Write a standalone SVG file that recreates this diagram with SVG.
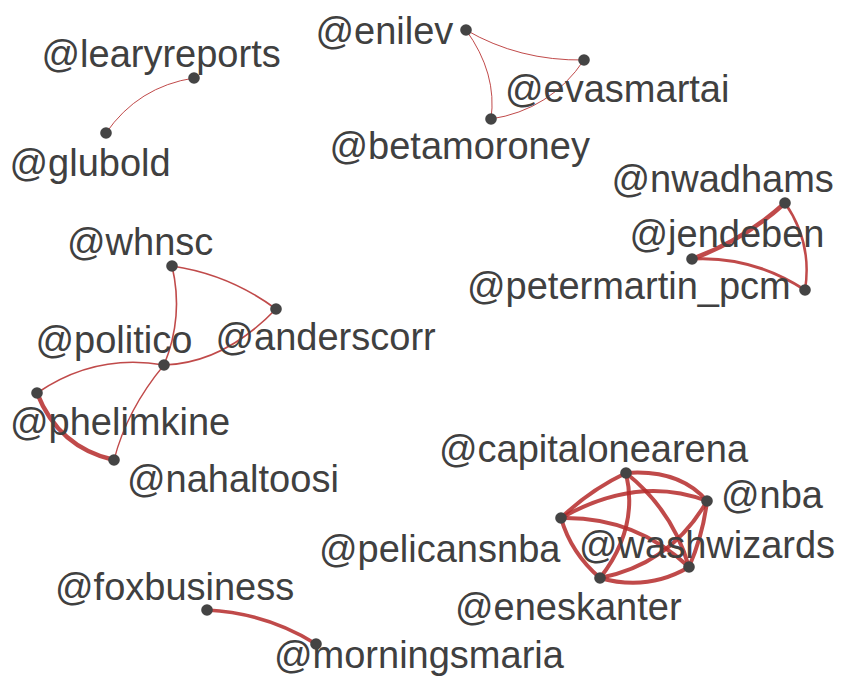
<svg xmlns="http://www.w3.org/2000/svg" width="844" height="676" viewBox="0 0 844 676">
<style>
.e{fill:none;stroke:#b52a2a;stroke-opacity:0.85;stroke-linecap:round}
.t{font-family:"Liberation Sans",Arial,sans-serif;font-size:38px;fill:#404040}
.n{fill:#444444}
</style>
<rect width="844" height="676" fill="#ffffff"/>
<g id="connectors">
<path class="e" stroke-width="1" d="M106,133 Q138,86.5 194,78"/>
<path class="e" stroke-width="1" d="M466,30 Q519,61 584,60"/>
<path class="e" stroke-width="1" d="M466,30 Q497.5,73.5 491,119"/>
<path class="e" stroke-width="1" d="M584,60 Q550.5,110 491,119"/>
<path class="e" stroke-width="4.5" d="M785,203 Q744,240 692,259"/>
<path class="e" stroke-width="3" d="M692,259 Q751.5,255.5 805,290"/>
<path class="e" stroke-width="2.5" d="M785,203 Q812.6,242.5 805,290"/>
<path class="e" stroke-width="1.6" d="M172,266 Q229.4,274.5 276,309"/>
<path class="e" stroke-width="1.6" d="M172,266 Q184,316.5 164,365"/>
<path class="e" stroke-width="1.6" d="M276,309 Q224,363 164,365"/>
<path class="e" stroke-width="1.6" d="M164,365 Q95.5,353 37,393"/>
<path class="e" stroke-width="1.3" d="M164,365 Q127,409.5 114,460"/>
<path class="e" stroke-width="4.5" d="M37,393 Q58.5,447.5 114,460"/>
<path class="e" stroke-width="3.5" d="M207,610 Q266.5,613 316,644"/>
<path class="e" stroke-width="4" d="M626,473 Q679.5,469 707,501"/>
<path class="e" stroke-width="4" d="M626,473 Q590,490 561,518"/>
<path class="e" stroke-width="4" d="M626,473 Q672.5,510 689,567"/>
<path class="e" stroke-width="4" d="M626,473 Q639,528.5 600,578"/>
<path class="e" stroke-width="4" d="M561,518 Q638,474.5 707,501"/>
<path class="e" stroke-width="4" d="M707,501 Q703,535 689,567"/>
<path class="e" stroke-width="4" d="M707,501 Q671,564 600,578"/>
<path class="e" stroke-width="4" d="M561,518 Q635,516.3 689,567"/>
<path class="e" stroke-width="4" d="M561,518 Q571,553 600,578"/>
<path class="e" stroke-width="4" d="M600,578 Q647.5,591.5 689,567"/>
</g>
<g id="labels">
<text class="t" x="41.5" y="67">@learyreports</text>
<text class="t" x="9.5" y="176">@glubold</text>
<text class="t" x="315.5" y="43.5">@enilev</text>
<text class="t" x="505" y="102">@evasmartai</text>
<text class="t" x="329.5" y="159">@betamoroney</text>
<text class="t" x="611.5" y="192">@nwadhams</text>
<text class="t" x="629.5" y="247">@jendeben</text>
<text class="t" x="467" y="299">@petermartin_pcm</text>
<text class="t" x="67" y="255">@whnsc</text>
<text class="t" x="215.5" y="350">@anderscorr</text>
<text class="t" x="35.5" y="353">@politico</text>
<text class="t" x="10" y="435">@phelimkine</text>
<text class="t" x="127" y="492">@nahaltoosi</text>
<text class="t" x="439" y="462">@capitalonearena</text>
<text class="t" x="721" y="508">@nba</text>
<text class="t" x="319" y="562">@pelicansnba</text>
<text class="t" x="579" y="558">@washwizards</text>
<text class="t" x="455" y="620">@eneskanter</text>
<text class="t" x="55" y="600">@foxbusiness</text>
<text class="t" x="274" y="668">@morningsmaria</text>
</g>
<g id="learyreports"><circle class="n" cx="194" cy="78" r="5.8"/></g>
<g id="glubold"><circle class="n" cx="106" cy="133" r="5.8"/></g>
<g id="enilev"><circle class="n" cx="466" cy="30" r="5.8"/></g>
<g id="evasmartai"><circle class="n" cx="584" cy="60" r="5.8"/></g>
<g id="betamoroney"><circle class="n" cx="491" cy="119" r="5.8"/></g>
<g id="nwadhams"><circle class="n" cx="785" cy="203" r="5.8"/></g>
<g id="jendeben"><circle class="n" cx="692" cy="259" r="5.8"/></g>
<g id="petermartin_pcm"><circle class="n" cx="805" cy="290" r="5.8"/></g>
<g id="whnsc"><circle class="n" cx="172" cy="266" r="5.8"/></g>
<g id="anderscorr"><circle class="n" cx="276" cy="309" r="5.8"/></g>
<g id="politico"><circle class="n" cx="164" cy="365" r="5.8"/></g>
<g id="phelimkine"><circle class="n" cx="37" cy="393" r="5.8"/></g>
<g id="nahaltoosi"><circle class="n" cx="114" cy="460" r="5.8"/></g>
<g id="capitalonearena"><circle class="n" cx="626" cy="473" r="5.8"/></g>
<g id="nba"><circle class="n" cx="707" cy="501" r="5.8"/></g>
<g id="pelicansnba"><circle class="n" cx="561" cy="518" r="5.8"/></g>
<g id="washwizards"><circle class="n" cx="689" cy="567" r="5.8"/></g>
<g id="eneskanter"><circle class="n" cx="600" cy="578" r="5.8"/></g>
<g id="foxbusiness"><circle class="n" cx="207" cy="610" r="5.8"/></g>
<g id="morningsmaria"><circle class="n" cx="316" cy="644" r="5.8"/></g>
</svg>
